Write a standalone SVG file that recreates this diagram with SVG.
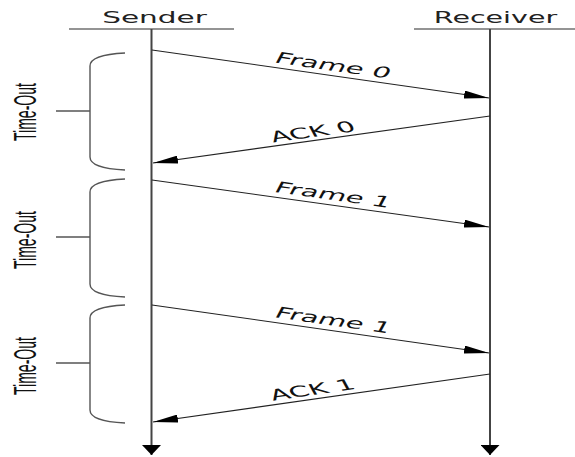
<svg xmlns="http://www.w3.org/2000/svg" width="575" height="457" viewBox="0 0 575 457">
<style>
.hdr{stroke:#707070;stroke-width:1.5;fill:none}
.life{stroke:#444;stroke-width:2;fill:none}
.msg{stroke:#222;stroke-width:1.1;fill:none}
.brace{stroke:#555;stroke-width:1.4;fill:none}
.name{font-family:"DejaVu Sans",sans-serif;font-size:15px;fill:#222}
.lbl{font-family:"DejaVu Sans",sans-serif;font-size:15px;fill:#111}
.to{font-family:"Liberation Sans",Arial,sans-serif;font-size:30.5px;fill:#111}
</style>
<defs>
<marker id="ah" markerUnits="userSpaceOnUse" markerWidth="25" markerHeight="8" refX="25" refY="4" orient="auto">
<path d="M0,0 L25,4 L0,8 z" fill="#000"/>
</marker>
<marker id="endh" markerUnits="userSpaceOnUse" markerWidth="10" markerHeight="19" refX="10" refY="9.5" orient="auto">
<path d="M0,0 L10,9.5 L0,19 z" fill="#000"/>
</marker>
</defs>
<rect width="575" height="457" fill="#fff"/>
<g id="sender">
<line class="hdr" x1="69" y1="29" x2="234" y2="29"/>
<text class="name" text-anchor="middle" transform="translate(154.5,22.5) scale(1.97,1)">Sender</text>
<line class="life" x1="151.5" y1="29" x2="151.5" y2="455" marker-end="url(#endh)"/>
</g>
<g id="receiver">
<line class="hdr" x1="414" y1="29" x2="575" y2="29"/>
<text class="name" text-anchor="middle" transform="translate(495.5,22.5) scale(1.9,1)">Receiver</text>
<line class="life" x1="490" y1="29" x2="490" y2="455" marker-end="url(#endh)"/>
</g>
<g id="timeout1">
<path class="brace" d="M125,53 C105,54 90,57 90,66 L90,157 C90,166 105,169 125,170"/>
<line class="brace" x1="56" y1="111" x2="90" y2="111"/>
<text class="to" text-anchor="middle" transform="translate(36,112) rotate(-90) scale(0.461,1)">Time-Out</text>
</g>
<g id="timeout2">
<path class="brace" d="M125,179 C105,180 90,183 90,192 L90,284 C90,293 105,296 125,297"/>
<line class="brace" x1="56" y1="237" x2="90" y2="237"/>
<text class="to" text-anchor="middle" transform="translate(36,240) rotate(-90) scale(0.461,1)">Time-Out</text>
</g>
<g id="timeout3">
<path class="brace" d="M125,305 C105,306 90,309 90,318 L90,410 C90,419 105,422 125,423"/>
<line class="brace" x1="56" y1="363" x2="90" y2="363"/>
<text class="to" text-anchor="middle" transform="translate(36,366) rotate(-90) scale(0.461,1)">Time-Out</text>
</g>
<g id="connectors">
<line class="msg" x1="152" y1="50" x2="489" y2="98" marker-end="url(#ah)"/>
<line class="msg" x1="490" y1="116" x2="153" y2="163" marker-end="url(#ah)"/>
<line class="msg" x1="152" y1="180" x2="489" y2="227" marker-end="url(#ah)"/>
<line class="msg" x1="152" y1="305" x2="489" y2="353" marker-end="url(#ah)"/>
<line class="msg" x1="490" y1="374" x2="153" y2="422" marker-end="url(#ah)"/>
<text class="lbl" text-anchor="middle" transform="translate(328,75.3) scale(1.95,1) rotate(15.48)" y="-5">Frame 0</text>
<text class="lbl" text-anchor="middle" transform="translate(317,140.1) scale(1.95,1) rotate(-15.17)" y="-3.5">ACK 0</text>
<text class="lbl" text-anchor="middle" transform="translate(328,204.5) scale(1.95,1) rotate(15.17)" y="-5">Frame 1</text>
<text class="lbl" text-anchor="middle" transform="translate(328,330) scale(1.95,1) rotate(15.48)" y="-5">Frame 1</text>
<text class="lbl" text-anchor="middle" transform="translate(317,398.6) scale(1.95,1) rotate(-15.48)" y="-4">ACK 1</text>
</g>
</svg>
